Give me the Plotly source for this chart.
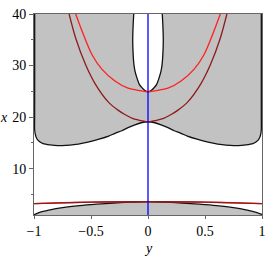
import plotly.graph_objects as go

# ---- data (horizontal variable "y", vertical variable "x") ----
# outer boundary of the upper shaded region (left side wall, lower curve, right side wall)
outer_y = [-0.994, -0.994, -0.994, -0.988, -0.975, -0.95, -0.92, -0.86, -0.79, -0.72, -0.65, -0.57,
           -0.5, -0.43, -0.345, -0.29, -0.23, -0.17, -0.115, -0.06, 0.0,
           0.06, 0.115, 0.17, 0.23, 0.29, 0.345, 0.43, 0.5, 0.57, 0.65, 0.72, 0.79, 0.86,
           0.92, 0.95, 0.975, 0.988, 0.994, 0.994, 0.994]
outer_x = [40.0, 20.0, 17.6, 16.6, 15.8, 15.2, 14.85, 14.6, 14.45, 14.5, 14.65, 14.95,
           15.3, 15.7, 16.3, 16.85, 17.35, 18.0, 18.5, 18.9, 19.05,
           18.9, 18.5, 18.0, 17.35, 16.85, 16.3, 15.7, 15.3, 14.95, 14.65, 14.5, 14.45, 14.6,
           14.85, 15.2, 15.8, 16.6, 17.6, 20.0, 40.0]

# boundary of the white hole at the top (right side down to the tip, then up the left side)
hole_y = [0.125, 0.13, 0.134, 0.132, 0.125, 0.115, 0.1, 0.075, 0.055, 0.03, 0.0,
          -0.03, -0.055, -0.075, -0.1, -0.115, -0.125, -0.132, -0.134, -0.13, -0.125]
hole_x = [40.0, 38.0, 35.0, 33.0, 30.5, 29.0, 27.8, 26.3, 25.75, 25.2, 24.9,
          25.2, 25.75, 26.3, 27.8, 29.0, 30.5, 33.0, 35.0, 38.0, 40.0]

# lower shaded region boundary
low_y = [-1.0, -0.95, -0.87, -0.75, -0.6, -0.45, -0.3, -0.2, 0.0, 0.2, 0.3, 0.45, 0.6, 0.75, 0.87, 0.95, 1.0]
low_x = [1.05, 1.5, 1.93, 2.42, 2.82, 3.1, 3.33, 3.45, 3.53, 3.45, 3.33, 3.1, 2.82, 2.42, 1.93, 1.5, 1.1]

# red curves
red_up_y = [-0.634, -0.577, -0.491, -0.405, -0.29, -0.175, -0.1, -0.031, 0.0,
            0.031, 0.1, 0.175, 0.29, 0.405, 0.491, 0.577, 0.634]
red_up_x = [40.0, 36.6, 32.1, 29.3, 27.0, 25.6, 25.25, 25.0, 24.9,
            25.0, 25.25, 25.6, 27.0, 29.3, 32.1, 36.6, 40.0]
red_low_y = [-1.0, -0.75, -0.5, -0.25, 0.0, 0.25, 0.5, 0.75, 1.0]
red_low_x = [3.22, 3.38, 3.5, 3.57, 3.6, 3.57, 3.5, 3.38, 3.22]

# dark red curves
dred_up_y = [-0.692, -0.634, -0.548, -0.462, -0.347, -0.26, -0.203, -0.13, -0.06, 0.0,
             0.06, 0.13, 0.203, 0.26, 0.347, 0.462, 0.548, 0.634, 0.692]
dred_up_x = [40.0, 35.3, 30.2, 26.4, 22.9, 21.3, 20.5, 19.7, 19.3, 19.05,
             19.3, 19.7, 20.5, 21.3, 22.9, 26.4, 30.2, 35.3, 40.0]
dred_low_y = [-1.0, -0.75, -0.5, -0.25, 0.0, 0.25, 0.5, 0.75, 1.0]
dred_low_x = [3.2, 3.36, 3.48, 3.55, 3.58, 3.55, 3.48, 3.36, 3.2]

x_tickvals = [-1, -0.5, 0, 0.5, 1]
x_ticktext = ["\u22121", "\u22120.5", "0", "0.5", "1"]
y_tickvals = [10, 20, 30, 40]
y_ticktext = ["10", "20", "30", "40"]
y_minor = [5, 15, 25, 35]

X_MIN, X_MAX = 1.0, 40.0

GRAY = "#C2C2C2"
RED = "#FF2020"
DRED = "#8E1B1B"

fig = go.Figure()

# upper shaded region (outer boundary, then hole boundary) as one polygon
fig.add_trace(go.Scatter(x=outer_y + hole_y, y=outer_x + hole_x, mode="lines",
                         fill="toself", fillcolor=GRAY, line=dict(width=0),
                         hoverinfo="skip", showlegend=False))
# lower shaded region
fig.add_trace(go.Scatter(x=low_y + [low_y[-1], low_y[0]], y=low_x + [X_MIN, X_MIN], mode="lines",
                         fill="toself", fillcolor=GRAY, line=dict(width=0),
                         hoverinfo="skip", showlegend=False))

# black boundaries
for yy, xx in [(outer_y, outer_x), (hole_y, hole_x), (low_y, low_x)]:
    fig.add_trace(go.Scatter(x=yy, y=xx, mode="lines",
                             line=dict(color="#111111", width=1.3, shape="spline", smoothing=0.6),
                             hoverinfo="skip", showlegend=False))

# red and dark red curves
fig.add_trace(go.Scatter(x=red_up_y, y=red_up_x, mode="lines",
                         line=dict(color=RED, width=1.3, shape="spline", smoothing=0.8), showlegend=False))
fig.add_trace(go.Scatter(x=red_low_y, y=red_low_x, mode="lines",
                         line=dict(color=RED, width=1.3, shape="spline", smoothing=0.8), showlegend=False))
fig.add_trace(go.Scatter(x=dred_up_y, y=dred_up_x, mode="lines",
                         line=dict(color=DRED, width=1.3, shape="spline", smoothing=0.8), showlegend=False))
fig.add_trace(go.Scatter(x=dred_low_y, y=dred_low_x, mode="lines",
                         line=dict(color=DRED, width=1.3, shape="spline", smoothing=0.8), showlegend=False))

# blue vertical line at y = 0
fig.add_trace(go.Scatter(x=[0, 0], y=[X_MIN, X_MAX], mode="lines",
                         line=dict(color="#0000FF", width=1.3), showlegend=False))

FONT = "Liberation Serif"

fig.update_layout(
    width=273, height=259,
    margin=dict(l=34, r=7, t=12, b=44),
    paper_bgcolor="white", plot_bgcolor="white",
    font=dict(family=FONT, size=14, color="black"),
    hovermode=False,
    xaxis=dict(range=[-1, 1], showgrid=False, zeroline=False,
               tickvals=x_tickvals, ticktext=x_ticktext,
               ticks="outside", ticklen=3, tickcolor="#666",
               showline=True, linecolor="#666", linewidth=1, mirror=True),
    yaxis=dict(range=[X_MIN, X_MAX], showgrid=False, zeroline=False,
               tickvals=y_tickvals, ticktext=y_ticktext,
               ticks="outside", ticklen=4, tickcolor="#666",
               minor=dict(tickvals=y_minor, ticks="outside", ticklen=2, tickcolor="#666"),
               showline=True, linecolor="#666", linewidth=1, mirror=True),
    annotations=[
        dict(text="<i>y</i>", xref="paper", yref="paper", x=0.5, y=-0.167,
             xanchor="center", yanchor="middle", showarrow=False,
             font=dict(family=FONT, size=14)),
        dict(text="<i>x</i>", xref="paper", yref="paper", x=-0.132, y=0.483,
             xanchor="center", yanchor="middle", showarrow=False,
             font=dict(family=FONT, size=14)),
    ],
)

fig.write_html("out.html", config={"displayModeBar": False},
               post_script="document.body.style.margin='0';")
